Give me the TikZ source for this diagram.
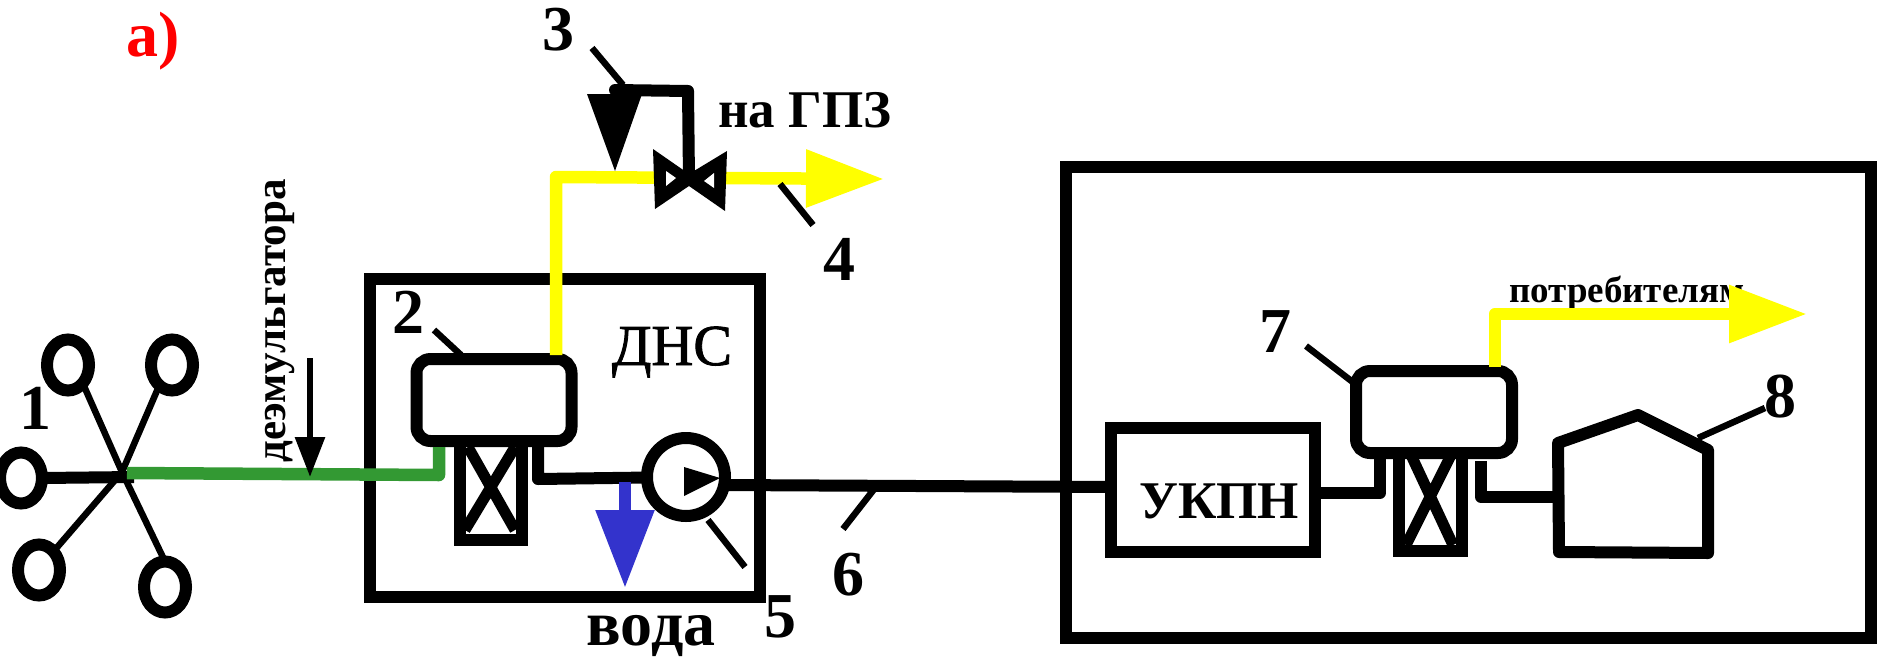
\documentclass[tikz,border=0pt]{standalone}
\usepackage{fontspec}
\setmainfont{Liberation Serif}
\usetikzlibrary{arrows.meta,shapes.geometric,calc}
\definecolor{gasy}{RGB}{255,255,0}
\definecolor{pipeg}{RGB}{51,153,51}
\definecolor{waterb}{RGB}{51,51,204}
\tikzset{
  well/.style={draw=black,line width=12pt,ellipse,inner sep=0pt,outer sep=0pt,minimum width=42pt,minimum height=51pt},
  sep/.style={draw=black,line width=12pt,rectangle,rounded corners=14pt,inner sep=0pt,outer sep=0pt,fill=white,minimum width=155pt,minimum height=82pt},
  frame/.style={draw=black,line width=12pt,rectangle,inner sep=0pt,outer sep=0pt,miter limit=10},
  pipe/.style={draw=black,line width=12pt,line join=round},
  thin/.style={draw=black,line width=6.5pt},
  gasline/.style={draw=gasy,line width=12.5pt,line join=round,-{Triangle[length=78pt,width=55pt]}},
  lbl/.style={anchor=base,inner sep=0pt,outer sep=0pt,font=\fontsize{64}{64}\selectfont\bfseries},
  txt/.style={anchor=base,inner sep=0pt,outer sep=0pt,font=\fontsize{53}{53}\selectfont}
}
\begin{document}
\begin{tikzpicture}[x=1pt,y=-1pt]
\useasboundingbox (0,0) rectangle (1878,659);
\fill[white] (0,0) rectangle (1878,659);
% outer frames
\node[frame,minimum width=390pt,minimum height=318pt] (dns) at (565,438) {};
\node[frame,minimum width=805pt,minimum height=471pt] (plant) at (1468.5,402.5) {};
% wells
\coordinate (hub) at (122,472);
\node[well] (w1) at (68,365) {};
\node[well] (w2) at (172,365) {};
\node[well] (w3) at (21,478) {};
\node[well] (w4) at (39,570) {};
\node[well] (w5) at (165,587) {};
\coordinate (hubr) at (134,477);
\draw[line width=12pt] (w3.east) -- (hubr);
\draw[thin] (w1.-51) -- (hub) -- (w5.90);
\draw[thin] (w2.238) -- (hub);
\draw[thin] (w4.52) -- (hub);
% stand 1 and separator 1
\coordinate (st1a) at (460,447); \coordinate (st1b) at (522,447);
\coordinate (st1c) at (522,540); \coordinate (st1d) at (460,540);
\draw[line width=12.5pt,miter limit=10] (st1a) -- (st1d) -- (st1c) -- (st1b);
\coordinate (x1a) at (468,447); \coordinate (x1b) at (515,530);
\coordinate (x1c) at (515,447); \coordinate (x1d) at (465,530);
\draw[line width=11pt] (x1a) -- (x1b) (x1c) -- (x1d);
\node[sep] (s1) at (494,400) {};
% green feed
\coordinate (gstart) at (127,473);
\coordinate (gbend) at (439,475);
\coordinate (gend) at (439,447);
\draw[pipeg,line width=12.5pt,line join=round] (gstart) -- (gbend) -- (gend);
% demulsifier
\coordinate (dtop) at (310,358);
\coordinate (dtip) at (310,477);
\draw[line width=6pt,-{Triangle[length=40pt,width=29pt]}] (dtop) -- (dtip);
\node[anchor=base,inner sep=0pt,rotate=90,font=\fontsize{43}{43}\selectfont\bfseries] (dem) at (285,321) {деэмульгатора};
% gas line 1
\coordinate (gc) at (556,177);
\coordinate (garrow) at (884,179);
\draw[gasline] (gc |- s1.north) ++(0,-4) -- (gc) -- (garrow);
% valve
\coordinate (vc) at (689,180);
\fill[black] (653,149) -- (689,174) -- (727,151) -- (725,211) -- (689,186) -- (655,209) -- cycle;
\fill[white] (666,171) -- (666,186) -- (676,178) -- cycle;
\fill[white] (714,173) -- (714,188) -- (704,181) -- cycle;
% actuator
\coordinate (ac1) at (688,91);
\coordinate (ac2) at (615,90);
\draw[pipe,line cap=round] (vc) -- (ac1) -- (ac2);
\fill[black] (587,94) -- (642,94) -- (615,171) -- cycle;
\coordinate (l3a) at (592,48); \coordinate (l3b) at (623,85);
\draw[thin] (l3a) -- (l3b);
\coordinate (l4a) at (780,184); \coordinate (l4b) at (813,225);
\draw[thin] (l4a) -- (l4b);
% water line, pump
\coordinate (wa) at (538,435);
\coordinate (wb) at (538,479);
\node[circle,draw=black,line width=12pt,fill=white,inner sep=0pt,outer sep=0pt,minimum size=78pt] (pump) at (686,477) {};
\draw[pipe] (wa) -- (wb) -- (pump);
\fill[black] (684,467) -- (684,496) -- (720,478) -- cycle;
\coordinate (wc) at (625,482);
\coordinate (wd) at (625,588);
\draw[waterb,line width=12pt,-{Triangle[length=78pt,width=56pt]}] (wc) -- (wd);
\coordinate (l5a) at (708,520); \coordinate (l5b) at (745,567);
\draw[thin] (l5a) -- (l5b);
\coordinate (l2a) at (434,330); \coordinate (l2b) at (461,355);
\draw[thin] (l2a) -- (l2b);
% UKPN
\node[frame,fill=white,minimum width=204pt,minimum height=124pt] (uk) at (1213,490) {};
\coordinate (pout) at (724,485);
\draw[pipe] (pout) -- ($(uk.west)+(0,-3)$);
\coordinate (l6a) at (875,488); \coordinate (l6b) at (843,529);
\draw[thin] (l6a) -- (l6b);
% stand 2 and separator 2
\coordinate (st2a) at (1399,455); \coordinate (st2b) at (1462,455);
\coordinate (st2c) at (1462,551); \coordinate (st2d) at (1399,551);
\draw[line width=12.5pt,miter limit=10] (st2a) -- (st2d) -- (st2c) -- (st2b);
\coordinate (x2a) at (1411,455); \coordinate (x2b) at (1453,545);
\coordinate (x2c) at (1451,455); \coordinate (x2d) at (1406,545);
\draw[line width=11pt] (x2a) -- (x2b) (x2c) -- (x2d);
\node[sep,minimum width=156pt] (s2) at (1434,412) {};
\coordinate (u2) at (1380,493);
\draw[pipe] (uk.east |- u2) -- (u2) -- (u2 |- s2.south);
% tank
\coordinate (t1) at (1559,552); \coordinate (t2) at (1558,443);
\coordinate (t3) at (1638,415); \coordinate (t4) at (1708,450);
\coordinate (t5) at (1708,553);
\draw[black,line width=12pt,line join=round] (t1) -- (t2) -- (t3) -- (t4) -- (t5) -- cycle;
\coordinate (o1) at (1481,461); \coordinate (o2) at (1481,497);
\draw[pipe] (o1) -- (o2) -- (t1 |- o2);
\coordinate (l7a) at (1306,346); \coordinate (l7b) at (1354,383);
\draw[thin] (l7a) -- (l7b);
\coordinate (l8a) at (1698,438); \coordinate (l8b) at (1765,408);
\draw[thin] (l8a) -- (l8b);
% text under gas arrow 2
\node[anchor=base west,inner sep=0pt,font=\fontsize{37}{37}\selectfont\bfseries] (cons) at (1509,302) {потребителям};
\coordinate (g2c) at (1495,314);
\coordinate (g2e) at (1807,314);
\draw[gasline] (g2c |- s2.north) ++(0,-4) -- (g2c) -- (g2e);
% labels
\node[lbl] (n1) at (35,429) {1};
\node[lbl] (n2) at (408,333) {2};
\node[lbl] (n3) at (558,50) {3};
\node[lbl] (n4) at (839,280) {4};
\node[lbl] (n5) at (780,637) {5};
\node[lbl] (n6) at (848,595) {6};
\node[lbl] (n7) at (1275,352) {7};
\node[lbl] (n8) at (1780,417) {8};
\node[txt,font=\fontsize{53}{53}\selectfont\bfseries] (gpz) at (805,127) {на ГПЗ};
\node[txt,font=\fontsize{58}{58}\selectfont\addfontfeature{FakeBold=1.5}] (dnst) at (672,365) {ДНС};
\node[txt,font=\fontsize{53}{53}\selectfont\bfseries] (uktx) at (1219,518) {УКПН};
\node[lbl,font=\fontsize{64}{64}\selectfont\bfseries] (voda) at (651,645) {вода};
\node[lbl,font=\fontsize{64}{64}\selectfont\bfseries,text=red] (aa) at (153,56) {а)};
\end{tikzpicture}
\end{document}
